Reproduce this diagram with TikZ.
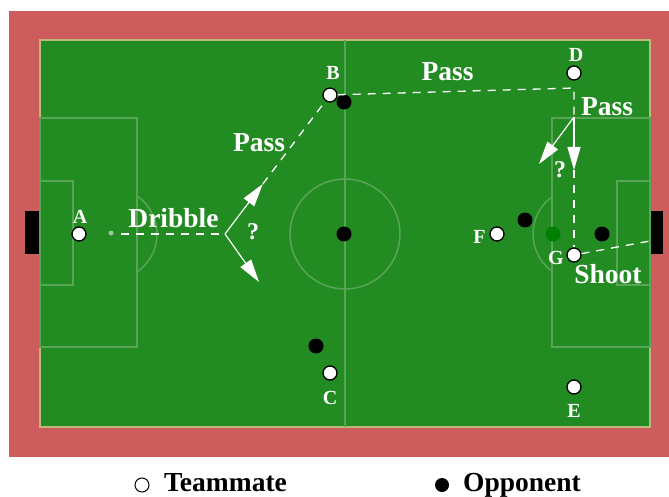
\documentclass[tikz,border=0pt]{standalone}
\usepackage{fontspec}
\setmainfont{Liberation Serif}
\usetikzlibrary{arrows.meta,calc}
\definecolor{track}{RGB}{205,92,92}
\definecolor{grass}{RGB}{34,139,34}
\definecolor{fline}{RGB}{88,165,88}
\definecolor{edgeline}{RGB}{190,185,120}
\definecolor{ballg}{RGB}{0,128,0}
\tikzset{
 mate/.style={circle,draw=black,fill=white,line width=1.3pt,minimum size=14pt,inner sep=0pt},
 opp/.style={circle,fill=black,minimum size=15pt,inner sep=0pt},
 ballnode/.style={circle,fill=ballg,minimum size=15pt,inner sep=0pt},
 plbl/.style={text=white,font=\fontsize{20}{20}\selectfont\bfseries,anchor=base,inner sep=0pt},
 bigtxt/.style={text=white,font=\fontsize{27.5}{28}\selectfont\bfseries,anchor=base,inner sep=0pt},
 qmark/.style={text=white,font=\fontsize{24}{24}\selectfont\bfseries,anchor=base,inner sep=0pt},
 legtxt/.style={text=black,font=\fontsize{27.5}{28}\selectfont\bfseries,anchor=base,inner sep=0pt},
 move/.style={white,line width=1.3pt,dash pattern=on 8pt off 7pt},
 kick/.style={white,line width=1.2pt,-{Triangle[length=23pt,width=13pt]}},
 fieldline/.style={fline,line width=1.5pt},
}
\begin{document}
\begin{tikzpicture}[x=1pt,y=-1pt]
\useasboundingbox (0,0) rectangle (669,497);
\fill[white] (0,0) rectangle (669,497);
\fill[track] (9,11) rectangle (669,457);
\fill[black] (25,211) rectangle (40,254);
\fill[black] (650,211) rectangle (663,254);
\draw[edgeline,line width=1.2pt,fill=grass] (40,40) rectangle (650,427);
% pitch markings
\draw[fieldline] (345,40) -- (345,427);
\draw[fieldline] (345,234) circle[radius=55];
\draw[fieldline] (40,118) rectangle (137,347);
\draw[fieldline] (40,181) rectangle (73,285);
\draw[fieldline] (650,118) rectangle (552,347);
\draw[fieldline] (650,181) rectangle (617,285);
\draw[fieldline] ([shift={(-55.6:46)}]111,234) arc[start angle=-55.6,end angle=55.6,radius=46];
\draw[fieldline] ([shift={(125.9:46)}]579,234) arc[start angle=125.9,end angle=234.1,radius=46];
\fill[fline!60!white] (111,233) circle[radius=2.5];
% opponents and ball
\node[opp] (o1) at (344,102) {};
\node[opp] (o2) at (344,234) {};
\node[opp] (o3) at (316,346) {};
\node[opp] (o4) at (525,220) {};
\node[opp] (o5) at (602,234) {};
\node[ballnode] (ball) at (553,234) {};
% teammates
\node[mate] (A) at (79,234) {};
\node[mate] (B) at (330,95) {};
\node[mate] (C) at (330,373) {};
\node[mate] (D) at (574,73) {};
\node[mate] (E) at (574,387) {};
\node[mate] (F) at (497,234) {};
\node[mate] (G) at (574,255) {};
% player labels
\node[plbl] (lA) at (80,223) {A};
\node[plbl] (lB) at (333,80) {B};
\node[plbl] (lC) at (330,404) {C};
\node[plbl] (lD) at (576,62) {D};
\node[plbl] (lE) at (574,417) {E};
\node[plbl] (lF) at (479.5,243) {F};
\node[plbl] (lG) at (556,264) {G};
% moves
\coordinate (dstart) at (121,234);
\coordinate (fork) at (225,234);
\coordinate (upT) at ($(fork)!0.36!(B)$);
\coordinate (dnT) at (259,282);
\draw[move] (dstart) -- (fork);
\draw[kick] (fork) -- (upT);
\draw[kick] (fork) -- (dnT);
\draw[move] (upT) -- (B);
\coordinate (turn) at (574,88);
\coordinate (split) at (574,117);
\coordinate (downT) at (574,170);
\coordinate (sideT) at (539,164);
\coordinate (goalR) at (650,241);
\draw[move] (B) -- (turn) -- (split);
\draw[kick] (split) -- (downT);
\draw[kick] (split) -- (sideT);
\draw[move] (downT) -- (G);
\draw[move] (G) -- (goalR);
% texts
\node[bigtxt] (tDrib) at (173.5,227) {Dribble};
\node[bigtxt] (tPass1) at (259,152) {Pass};
\node[qmark] (tQ1) at (253,240) {?};
\node[bigtxt] (tPass2) at (447.5,81) {Pass};
\node[bigtxt] (tPass3) at (607,116) {Pass};
\node[qmark] (tQ2) at (560,178) {?};
\node[bigtxt] (tShoot) at (608,283) {Shoot};
% legend
\node[circle,draw=black,line width=1pt,minimum size=14pt,inner sep=0pt] (legM) at (142,485) {};
\node[legtxt] (legMt) at (225.5,491) {Teammate};
\node[opp,minimum size=14pt] (legO) at (442,485) {};
\node[legtxt] (legOt) at (522,491) {Opponent};
\end{tikzpicture}
\end{document}
